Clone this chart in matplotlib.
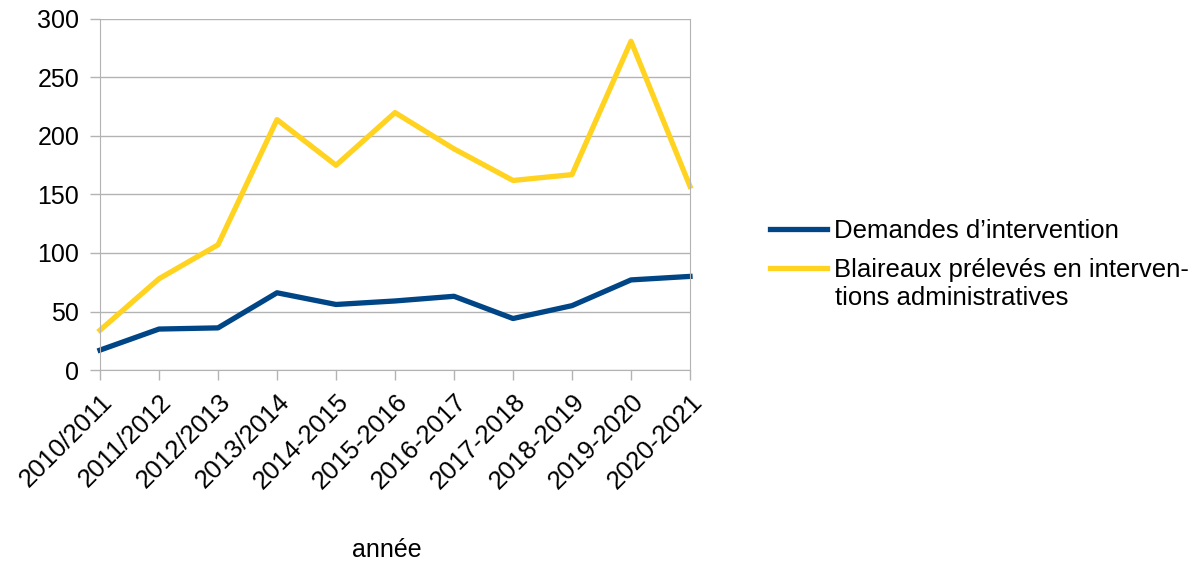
import numpy as np
import matplotlib.pyplot as plt

plt.rcParams['font.family'] = ['Liberation Sans', 'DejaVu Sans']

annees = ["2010/2011", "2011/2012", "2012/2013", "2013/2014", "2014-2015", "2015-2016",
          "2016-2017", "2017-2018", "2018-2019", "2019-2020", "2020-2021"]
demandes = [17, 35, 36, 66, 56, 59, 63, 44, 55, 77, 80]
blaireaux = [34, 78, 107, 214, 175, 220, 189, 162, 167, 281, 157]

fig = plt.figure(figsize=(11.97, 5.63), dpi=100)
ax = fig.add_axes([100/1197, 1 - 370/563, 590/1197, 351/563])

x = np.arange(len(annees))
ax.plot(x, demandes, color='#004586', lw=3.8, label="Demandes d’intervention",
        solid_joinstyle='round', clip_on=False)
ax.plot(x, blaireaux, color='#ffd320', lw=3.8,
        label="Blaireaux prélevés en interven-",
        solid_joinstyle='round', clip_on=False)

ax.set_xlim(0, len(annees) - 1)
ax.set_ylim(0, 300)
ax.set_yticks(range(0, 301, 50))
ax.set_xticks(x)
ax.set_xticklabels(annees, rotation=45, ha='right', rotation_mode='anchor')
ax.tick_params(colors='#b3b3b3', labelcolor='black', length=7, width=1)
ax.tick_params(axis='y', labelsize=18, pad=8)
ax.tick_params(axis='x', labelsize=18.5, pad=7)
ax.grid(axis='y', color='#b3b3b3', lw=1)
ax.set_axisbelow(True)
for s in ax.spines.values():
    s.set_color('#b3b3b3')
ax.spines['top'].set_visible(False)

fig.text(387/1197, 1 - 550/563, "année", ha='center', va='center', fontsize=18)

ax.legend(loc='center left', bbox_to_anchor=(770/1197, 1 - 250.5/563),
          bbox_transform=fig.transFigure, frameon=False, fontsize=18.5,
          borderpad=0, borderaxespad=0,
          handlelength=2.2, handletextpad=0.28, labelspacing=0.62)
# suite du libellé sur deux lignes
fig.text(835/1197, 1 - 298/563, "tions administratives", ha='left', va='center',
         fontsize=18.5)

fig.savefig("out.png", dpi=100)
